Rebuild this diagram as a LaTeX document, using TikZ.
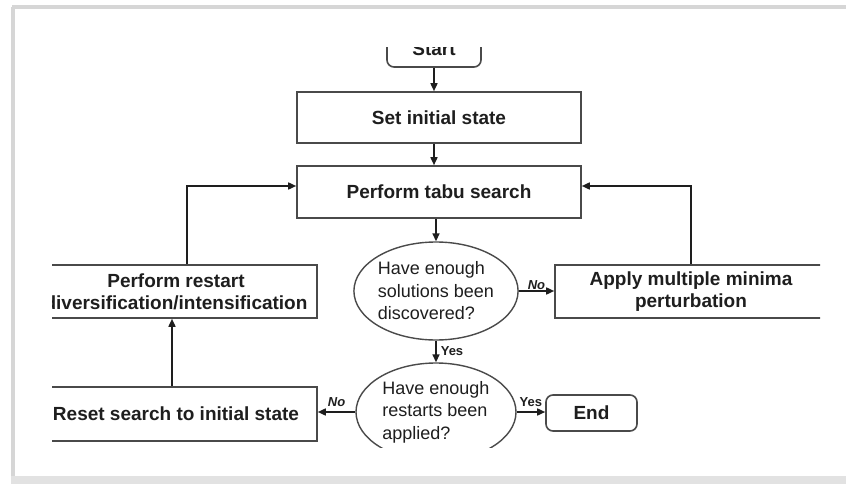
\documentclass[tikz,border=0pt]{standalone}
\usepackage{fontspec}
\setmainfont{Liberation Sans}
\usetikzlibrary{arrows.meta,shapes.geometric}

\definecolor{edge}{HTML}{4A4A4A}
\definecolor{ink}{HTML}{1E1E1E}
\definecolor{frame}{HTML}{D6D6D6}

\tikzset{
  procbox/.style={draw=edge, line width=1.6pt, rectangle, align=center,
    font=\fontsize{19}{22}\selectfont\bfseries, text=ink, inner sep=0pt},
  termbox/.style={procbox, rounded corners=7pt},
  decision/.style={draw=edge, line width=1.4pt, ellipse, align=left,
    font=\fontsize{18}{22.5}\selectfont, text=ink, inner sep=0pt,
    minimum width=160pt, minimum height=98pt},
  flow/.style={draw=ink, line width=1.6pt,
    -{Triangle[length=8pt,width=7pt]}},
  branch/.style={font=\fontsize{13}{15}\selectfont\bfseries\itshape, text=ink, inner sep=1pt},
  branchyes/.style={branch, font=\fontsize{13}{15}\selectfont\bfseries}
}

\begin{document}
\begin{tikzpicture}[x=1pt, y=-1pt]
  \useasboundingbox (0,0) rectangle (846,484);
  \fill[white] (0,0) rectangle (846,484);

  % window frame
  \draw[frame, line width=4pt] (12,7) -- (846,7);
  \draw[frame, line width=4pt] (13,7) -- (13,484);
  \fill[frame!70] (11,476) rectangle (846,484);

  \begin{scope}
    \clip (52,48) rectangle (820,447);

    % nodes
    \node[termbox, minimum width=94pt, minimum height=36pt] (start) at (434,49) {Start};
    \node[procbox, minimum width=284pt, minimum height=51pt] (init) at (439,117.5) {Set initial state};
    \node[procbox, minimum width=284pt, minimum height=52pt] (tabu) at (439,192) {Perform tabu search};
    \node[decision] (q1) at (436,291) {Have enough\\solutions been\\discovered?};
    \node[procbox, minimum width=272pt, minimum height=53pt] (pert) at (691,291.5) {Apply multiple minima\\perturbation};
    \node[procbox, minimum width=282pt, minimum height=53pt] (restart) at (176,291.5) {Perform restart\\diversification/intensification};
    \node[decision] (q2) at (436,412) {Have enough\\restarts been\\applied?};
    \node[procbox, minimum width=282pt, minimum height=54pt] (reset) at (176,414) {Reset search to initial state};
    \node[termbox, minimum width=91pt, minimum height=36pt] (end) at (591.5,413) {End};

    % main flow
    \draw[flow] (start.south) -- (start.south |- init.north);
    \draw[flow] (init.south -| start) -- (start |- tabu.north);
    \draw[flow] (tabu.south -| q1) -- (q1.north);
    \draw[flow] (q1.east) -- (q1.east -| pert.west)
      node[branch, midway, above] {No};
    \draw[flow] (q1.south) -- (q2.north)
      node[branchyes, midway, right, xshift=3pt] {Yes};
    \draw[flow] (q2.west) -- (q2.west -| reset.east)
      node[branch, midway, above, yshift=4pt] {No};
    \draw[flow] (q2.east) -- (q2.east -| end.west)
      node[branchyes, midway, above, yshift=4pt] {Yes};

    % loops back to the tabu search
    \draw[flow] ([xshift=-4pt]reset.north) -- ([xshift=-4pt]restart.south);
    \draw[flow] ([xshift=11pt]restart.north) |- ([yshift=6pt]tabu.west);
    \draw[flow] (pert.north) |- ([yshift=6pt]tabu.east);
  \end{scope}
\end{tikzpicture}
\end{document}
